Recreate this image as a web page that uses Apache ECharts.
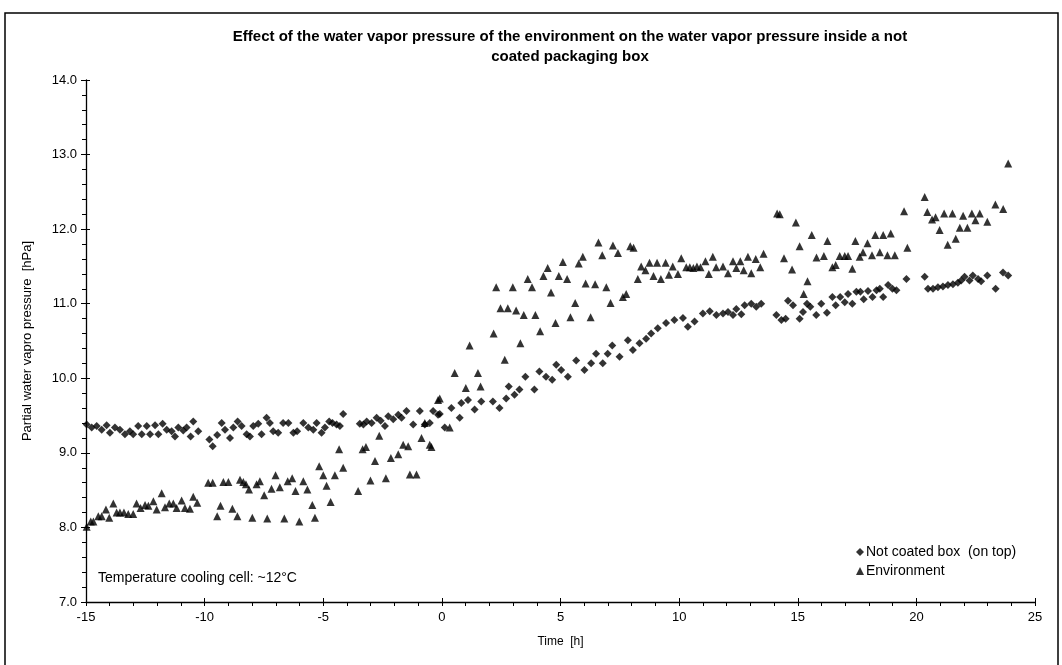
<!DOCTYPE html>
<html>
<head>
<meta charset="utf-8">
<script src="https://cdn.jsdelivr.net/npm/echarts@6/dist/echarts.min.js"></script>
<style>html,body{margin:0;padding:0;background:#fff}#c{width:1062px;height:665px}</style>
</head>
<body>
<div id="c"></div>
<script>
const titleText = "Effect of the water vapor pressure of the environment on the water vapor pressure inside a not\ncoated packaging box";
const xAxisName = "Time  [h]";
const yAxisName = "Partial water vapro pressure  [hPa]";
const seriesNames = ["Not coated box  (on top)", "Environment"];
const noteText = "Temperature cooling cell: ~12\u00B0C";

const notCoatedBox = [
[-14.97,9.38],[-14.76,9.34],[-14.55,9.36],[-14.34,9.31],[-14.13,9.37],[-13.99,9.27],[-13.78,9.34],[-13.57,9.31],[-13.36,9.25],[-13.15,9.29],
[-13.01,9.25],[-12.8,9.36],[-12.65,9.25],[-12.44,9.36],[-12.3,9.25],[-12.09,9.37],[-11.95,9.25],[-11.77,9.39],[-11.6,9.31],[-11.39,9.29],
[-11.25,9.22],[-11.11,9.34],[-10.9,9.3],[-10.76,9.34],[-10.59,9.22],[-10.48,9.42],[-10.27,9.29],
[-9.8,9.18],[-9.66,9.09],[-9.47,9.24],[-9.28,9.4],[-9.14,9.31],[-8.93,9.2],[-8.79,9.34],[-8.61,9.42],[-8.44,9.36],[-8.23,9.25],
[-8.09,9.22],[-7.95,9.36],[-7.74,9.39],[-7.6,9.25],[-7.39,9.47],[-7.25,9.4],[-7.11,9.29],[-6.9,9.27],[-6.69,9.4],[-6.47,9.4],
[-6.26,9.27],[-6.1,9.29],[-5.84,9.4],[-5.63,9.34],[-5.42,9.31],[-5.28,9.4],[-5.07,9.27],[-4.93,9.34],[-4.75,9.42],[-4.61,9.4],
[-4.44,9.38],[-4.3,9.36],[-4.16,9.52],
[-3.46,9.39],[-3.31,9.38],[-3.17,9.42],[-2.96,9.4],[-2.75,9.47],[-2.58,9.43],[-2.4,9.36],[-2.26,9.49],[-2.05,9.45],[-1.84,9.51],
[-1.7,9.47],[-1.49,9.56],[-1.21,9.38],[-0.93,9.56],[-0.72,9.38],[-0.51,9.4],[-0.37,9.56],[-0.16,9.51],
[-0.09,9.52],[0.12,9.34],[0.4,9.6],[0.75,9.47],[0.82,9.67],[1.1,9.71],[1.38,9.58],[1.66,9.69],[2.15,9.69],[2.43,9.6],
[2.71,9.73],[2.82,9.89],[3.06,9.78],[3.27,9.85],[3.52,10.02],[3.9,9.85],[4.11,10.09],[4.39,10.02],[4.65,9.98],[4.82,10.18],
[5.03,10.11],[5.31,10.02],[5.66,10.24],[6.01,10.11],[6.29,10.2],[6.5,10.33],[6.78,10.2],[6.99,10.33],[7.18,10.44],[7.49,10.29],
[7.84,10.51],[8.05,10.38],[8.33,10.47],[8.61,10.53],[8.82,10.6],[9.1,10.67],[9.45,10.74],[9.8,10.78],[10.16,10.81],[10.37,10.69],
[10.65,10.76],[11.0,10.87],[11.29,10.9],[11.57,10.85],
[11.85,10.87],[12.06,10.89],[12.27,10.85],[12.41,10.93],[12.62,10.86],[12.76,10.98],[13.04,11.0],[13.25,10.96],[13.46,11.0],
[14.1,10.85],[14.31,10.78],[14.49,10.8],[14.59,11.04],[14.8,10.98],[15.08,10.8],[15.22,10.89],[15.39,11.0],[15.53,10.96],[15.78,10.85],
[15.99,11.0],[16.23,10.88],[16.46,11.09],[16.6,10.98],[16.79,11.09],[16.98,11.02],[17.12,11.13],[17.3,11.0],[17.47,11.16],[17.64,11.16],
[17.78,11.06],[17.96,11.17],[18.15,11.09],[18.32,11.18],[18.46,11.2],[18.6,11.09],[18.81,11.25],[18.99,11.2],[19.16,11.18],[19.58,11.33],
[20.35,11.36],[20.49,11.2],[20.7,11.2],[20.91,11.22],[21.12,11.23],[21.33,11.25],[21.54,11.26],[21.75,11.28],[21.89,11.31],[22.03,11.36],
[22.24,11.31],[22.38,11.38],[22.6,11.33],[22.73,11.3],[22.99,11.38],[23.34,11.2],[23.65,11.42],[23.87,11.38]
];

const environment = [
[-14.97,8.01],[-14.8,8.08],[-14.69,8.08],[-14.48,8.15],[-14.34,8.15],[-14.16,8.24],[-14.02,8.13],[-13.85,8.32],[-13.71,8.2],[-13.57,8.2],
[-13.4,8.2],[-13.22,8.18],[-13.01,8.18],[-12.87,8.32],[-12.7,8.26],[-12.51,8.3],[-12.37,8.29],[-12.16,8.35],[-12.02,8.24],[-11.81,8.46],
[-11.67,8.27],[-11.49,8.32],[-11.32,8.32],[-11.18,8.26],[-10.97,8.36],[-10.83,8.26],[-10.62,8.25],[-10.48,8.41],[-10.31,8.33],
[-9.85,8.6],[-9.66,8.6],[-9.47,8.15],[-9.33,8.29],[-9.21,8.61],[-9.0,8.61],[-8.83,8.25],[-8.62,8.15],[-8.51,8.64],[-8.37,8.61],
[-8.26,8.58],[-8.13,8.51],[-7.99,8.13],[-7.81,8.58],[-7.67,8.62],[-7.49,8.43],[-7.36,8.12],[-7.18,8.52],[-7.01,8.7],[-6.83,8.54],
[-6.64,8.12],[-6.5,8.62],[-6.31,8.66],[-6.17,8.49],[-6.01,8.08],[-5.84,8.62],[-5.67,8.51],[-5.46,8.3],[-5.35,8.13],[-5.17,8.82],
[-5.0,8.7],[-4.86,8.56],[-4.69,8.34],[-4.51,8.7],[-4.33,9.05],[-4.16,8.8],
[-3.53,8.49],[-3.34,9.05],[-3.2,9.08],[-3.01,8.63],[-2.82,8.89],[-2.64,9.23],[-2.36,8.66],[-2.15,8.93],[-1.84,8.98],[-1.63,9.11],
[-1.42,9.09],[-1.35,8.71],[-1.07,8.71],[-0.86,9.2],[-0.72,9.4],[-0.51,9.11],[-0.44,9.08],[-0.16,9.71],
[-0.09,9.73],[0.33,9.34],[0.54,10.07],[1.01,9.87],[1.17,10.44],[1.52,10.07],[1.63,9.89],[2.18,10.6],[2.29,11.22],[2.47,10.94],
[2.65,10.25],[2.78,10.94],[2.99,11.22],[3.13,10.91],[3.31,10.47],[3.45,10.85],[3.62,11.33],[3.8,11.22],[3.94,10.85],[4.14,10.63],
[4.28,11.37],[4.46,11.48],[4.6,11.15],[4.79,10.74],[4.93,11.37],[5.1,11.56],[5.28,11.33],[5.42,10.82],[5.62,11.01],[5.77,11.54],
[5.94,11.63],[6.06,11.27],[6.27,10.82],[6.46,11.26],[6.6,11.82],[6.76,11.65],[6.93,11.22],[7.11,11.01],[7.21,11.78],[7.42,11.68],
[7.63,11.09],[7.77,11.13],[7.94,11.77],[8.08,11.75],[8.26,11.33],[8.4,11.5],[8.58,11.45],[8.75,11.55],[8.92,11.37],[9.07,11.55],
[9.23,11.33],[9.43,11.55],[9.57,11.39],[9.73,11.5],[9.95,11.4],[10.09,11.61],[10.3,11.49],[10.45,11.49],[10.6,11.48],[10.75,11.5],
[10.9,11.49],[11.11,11.57],[11.25,11.4],[11.42,11.63],[11.56,11.49],
[11.85,11.5],[12.06,11.41],[12.27,11.57],[12.41,11.48],[12.58,11.57],[12.72,11.45],[12.9,11.63],[13.04,11.41],[13.23,11.6],[13.42,11.49],
[13.56,11.67],[14.13,12.21],[14.24,12.2],[14.42,11.61],[14.76,11.46],[14.92,12.09],[15.08,11.77],[15.25,11.13],[15.41,11.3],[15.59,11.92],
[15.79,11.62],[16.1,11.64],[16.25,11.84],[16.46,11.49],[16.6,11.52],[16.77,11.64],[16.98,11.64],[17.12,11.64],[17.3,11.47],[17.43,11.84],
[17.61,11.63],[17.75,11.69],[17.94,11.81],[18.13,11.65],[18.27,11.92],[18.46,11.69],[18.6,11.92],[18.78,11.65],[18.92,11.94],[19.09,11.65],
[19.48,12.24],[19.62,11.75],[20.35,12.43],[20.46,12.23],[20.66,12.13],[20.81,12.16],[20.98,11.99],[21.17,12.21],[21.32,11.79],[21.52,12.21],
[21.66,11.87],[21.83,12.02],[21.97,12.18],[22.15,12.02],[22.34,12.21],[22.49,12.12],[22.67,12.21],[22.99,12.1],[23.33,12.33],[23.66,12.27],
[23.87,12.88]
];

const xMin = -15, xMax = 25, xStep = 5;
const yMin = 7, yMax = 14, yStep = 1;

const chart = echarts.init(document.getElementById('c'), null, {renderer: 'canvas'});
const FONT = 'Liberation Sans, Arial, sans-serif';
chart.setOption({
  backgroundColor: '#fff',
  animation: false,
  title: {
    text: titleText,
    left: 565, textAlign: 'center', top: 22,
    textStyle: {fontFamily: FONT, fontSize: 15, fontWeight: 'bold', color: '#000', lineHeight: 20}
  },
  legend: {
    orient: 'vertical', left: 851, top: 540, itemGap: 5,
    itemWidth: 8, itemHeight: 8,
    textStyle: {fontFamily: FONT, fontSize: 14, color: '#000', padding: [0,0,0,-3]},
    data: [{name: seriesNames[0], icon: 'diamond'}, {name: seriesNames[1], icon: 'triangle'}]
  },
  grid: {left: 86, right: 27, top: 80, bottom: 63, containLabel: false},
  xAxis: [{
    type: 'value', min: xMin, max: xMax, interval: xStep,
    name: xAxisName, nameLocation: 'middle', nameGap: 34,
    nameTextStyle: {fontFamily: FONT, fontSize: 12, color: '#000'},
    axisLine: {show: true, onZero: false, lineStyle: {color: '#000', width: 1.3}},
    axisTick: {show: true, length: 4, lineStyle: {color: '#000'}},
    minorTick: {show: true, splitNumber: 5, length: 4, lineStyle: {color: '#000'}},
    axisLabel: {fontFamily: FONT, fontSize: 13, color: '#000', margin: 9},
    splitLine: {show: false}
  }, {
    type: 'value', min: xMin, max: xMax, interval: xStep, position: 'bottom',
    axisLine: {show: false, onZero: false},
    axisTick: {show: true, inside: true, length: 4, lineStyle: {color: '#000'}},
    axisLabel: {show: false}, splitLine: {show: false}
  }],
  yAxis: [{
    type: 'value', min: yMin, max: yMax, interval: yStep,
    name: yAxisName, nameLocation: 'middle', nameGap: 52,
    nameTextStyle: {fontFamily: FONT, fontSize: 13, color: '#000'},
    axisLine: {show: true, onZero: false, lineStyle: {color: '#000', width: 1.3}},
    axisTick: {show: true, length: 5, lineStyle: {color: '#000'}},
    minorTick: {show: true, splitNumber: 5, length: 4, lineStyle: {color: '#000'}},
    axisLabel: {fontFamily: FONT, fontSize: 13, color: '#000', margin: 9, formatter: v => v.toFixed(1)},
    splitLine: {show: false}
  }, {
    type: 'value', min: yMin, max: yMax, interval: yStep, position: 'left',
    axisLine: {show: false, onZero: false},
    axisTick: {show: true, inside: true, length: 4, lineStyle: {color: '#000'}},
    axisLabel: {show: false}, splitLine: {show: false}
  }],
  graphic: [
    {type: 'rect', shape: {x: 5, y: 13, width: 1053, height: 700}, style: {fill: 'none', stroke: '#000', lineWidth: 1.5}, silent: true},
    {type: 'text', left: 98, top: 571, style: {text: noteText, fontFamily: FONT, fontSize: 14, fill: '#000'}, silent: true}
  ],
  series: [{
    name: seriesNames[0], type: 'scatter', symbol: 'diamond', symbolSize: 8,
    itemStyle: {color: '#000'}, data: notCoatedBox
  }, {
    name: seriesNames[1], type: 'scatter', symbol: 'triangle', symbolSize: 8,
    itemStyle: {color: '#000'}, data: environment
  }]
});
</script>
</body>
</html>
